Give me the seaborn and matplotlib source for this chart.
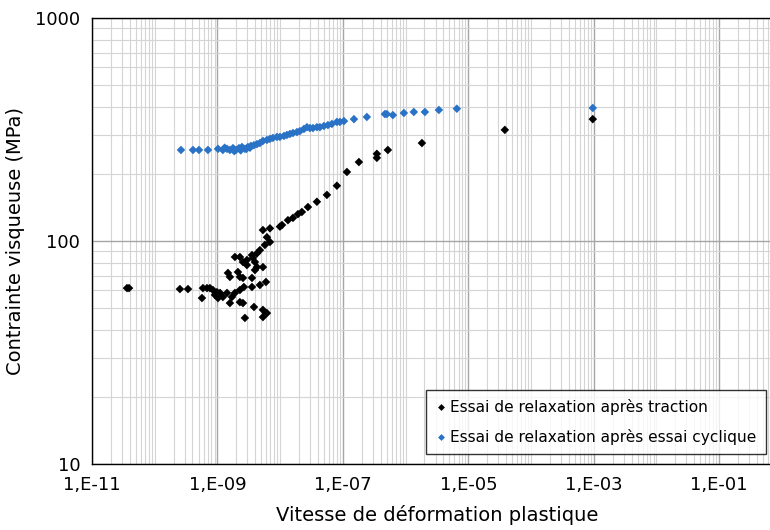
import pandas as pd
import numpy as np
import matplotlib
matplotlib.use('Agg')
import matplotlib.pyplot as plt
from matplotlib.ticker import LogLocator, FixedLocator, NullFormatter
import seaborn as sns

# ────────────────────────────────────────────────
# DATA
# ────────────────────────────────────────────────
LABEL_TRACTION = 'Essai de relaxation après traction'
LABEL_CYCLIQUE = 'Essai de relaxation après essai cyclique'

traction_vitesse = [
    3.61e-11, 3.89e-11, 2.52e-10, 3.39e-10, 5.66e-10, 5.87e-10, 6.81e-10, 7.59e-10,
    8.47e-10, 9.12e-10, 9.82e-10, 1.02e-9, 1.10e-9, 1.22e-9, 1.42e-9, 1.58e-9,
    1.70e-9, 1.90e-9, 2.28e-9, 2.64e-9, 2.28e-9, 2.55e-9, 2.74e-9, 3.82e-9,
    5.31e-9, 5.31e-9, 6.15e-9, 3.55e-9, 4.75e-9, 5.93e-9, 3.96e-9, 5.31e-9,
    1.47e-9, 1.58e-9, 2.12e-9, 2.28e-9, 2.55e-9, 3.55e-9, 1.90e-9, 2.28e-9,
    2.55e-9, 2.95e-9, 2.95e-9, 3.55e-9, 3.68e-9, 3.96e-9, 4.26e-9, 4.26e-9,
    4.75e-9, 5.71e-9, 6.87e-9, 6.15e-9, 5.31e-9, 6.87e-9, 9.91e-9, 1.07e-8,
    1.33e-8, 1.60e-8, 1.92e-8, 2.22e-8, 2.77e-8, 3.85e-8, 5.56e-8, 8.02e-8,
    1.16e-7, 1.80e-7, 3.48e-7, 3.48e-7, 5.21e-7, 1.82e-6, 3.82e-5, 9.64e-4,
]
traction_contrainte = [
    61.5, 61.5, 60.9, 60.9, 55.5, 61.5, 61.5, 61.5,
    60.3, 57.3, 59.0, 55.5, 58.5, 56.1, 58.5, 52.7,
    56.1, 58.5, 60.3, 62.2, 53.2, 52.7, 45.2, 50.6,
    49.1, 45.6, 47.5, 62.2, 63.5, 65.5, 74.1, 76.4,
    71.9, 69.0, 72.6, 69.0, 68.3, 68.3, 84.8, 84.8,
    80.5, 78.0, 82.2, 86.5, 84.0, 80.5, 76.4, 88.0,
    91.0, 96.0, 99.0, 104, 112, 114, 116, 118,
    124, 127, 132, 135, 142, 150, 161, 177,
    204, 226, 246, 236, 256, 275, 315, 352,
]

cyclique_vitesse = [
    2.62e-10, 4.07e-10, 5.07e-10, 7.06e-10, 1.02e-9, 1.22e-9, 1.42e-9, 1.58e-9,
    1.77e-9, 1.97e-9, 2.20e-9, 2.46e-9, 2.74e-9, 3.06e-9, 3.42e-9, 3.82e-9,
    4.26e-9, 4.75e-9, 5.31e-9, 6.15e-9, 6.87e-9, 7.66e-9, 8.87e-9, 9.91e-9,
    1.15e-8, 1.28e-8, 1.43e-8, 1.60e-8, 1.85e-8, 2.06e-8, 2.39e-8, 2.67e-8,
    2.98e-8, 3.33e-8, 3.85e-8, 4.30e-8, 4.98e-8, 5.77e-8, 6.68e-8, 8.02e-8,
    8.96e-8, 1.04e-7, 1.50e-7, 2.41e-7, 4.67e-7, 5.02e-7, 6.26e-7, 9.38e-7,
    1.35e-6, 2.03e-6, 3.39e-6, 6.56e-6, 9.64e-4,
    1.30e-9, 1.85e-9, 2.35e-9, 2.90e-9, 3.30e-9,
]
cyclique_contrainte = [
    256, 256, 256, 256, 259, 256, 259, 256,
    261, 256, 261, 264, 259, 264, 267, 269,
    272, 275, 281, 284, 287, 290, 293, 293,
    296, 299, 302, 305, 308, 311, 318, 324,
    321, 321, 324, 324, 328, 331, 335, 342,
    342, 345, 352, 360, 371, 371, 367, 375,
    379, 379, 387, 392, 395,
    262, 253, 255, 259, 262,
]

df = pd.concat([
    pd.DataFrame({'vitesse': traction_vitesse, 'contrainte': traction_contrainte,
                  'essai': LABEL_TRACTION}),
    pd.DataFrame({'vitesse': cyclique_vitesse, 'contrainte': cyclique_contrainte,
                  'essai': LABEL_CYCLIQUE}),
], ignore_index=True)

# ────────────────────────────────────────────────
# PLOT
# ────────────────────────────────────────────────
sns.set_style('white')
plt.rcParams['font.family'] = ['DejaVu Sans']
plt.rcParams['text.color'] = '#000000'
plt.rcParams['axes.labelcolor'] = '#000000'
plt.rcParams['xtick.color'] = '#000000'
plt.rcParams['ytick.color'] = '#000000'

fig = plt.figure(figsize=(7.7, 5.3), dpi=100)
# plot area runs a little past the right edge (cropped, as in the source image)
ax = fig.add_axes([0.1195, 0.1245, 0.896, 0.8415])

sns.scatterplot(data=df, x='vitesse', y='contrainte', hue='essai',
                palette={LABEL_TRACTION: '#000000', LABEL_CYCLIQUE: '#2a72c6'},
                marker='D', s=19, linewidth=0, ax=ax)

ax.set_xscale('log')
ax.set_yscale('log')
ax.set_xlim(1e-11, 1e0)
ax.set_ylim(10, 1000)

ax.xaxis.set_major_locator(FixedLocator([1e-11, 1e-9, 1e-7, 1e-5, 1e-3, 1e-1]))
ax.xaxis.set_minor_locator(LogLocator(base=10, subs=np.arange(1, 10), numticks=30))
ax.xaxis.set_minor_formatter(NullFormatter())
ax.set_xticklabels(['1,E-11', '1,E-09', '1,E-07', '1,E-05', '1,E-03', '1,E-01'])

ax.yaxis.set_major_locator(FixedLocator([10, 100, 1000]))
ax.yaxis.set_minor_locator(LogLocator(base=10, subs=np.arange(2, 10), numticks=10))
ax.yaxis.set_minor_formatter(NullFormatter())
ax.set_yticklabels(['10', '100', '1000'])

ax.grid(True, which='major', color='#a6a6a6', linewidth=1.0)
ax.grid(True, which='minor', color='#d4d4d4', linewidth=0.8)
ax.set_axisbelow(True)

ax.tick_params(axis='both', which='major', labelsize=13, length=5, width=1,
               color='#000000', labelcolor='#000000', direction='out')
ax.tick_params(axis='both', which='minor', length=0)
for side in ['left', 'bottom', 'top', 'right']:
    ax.spines[side].set_color('#000000')
    ax.spines[side].set_linewidth(1.0)

ax.set_xlabel('Vitesse de déformation plastique', fontsize=14, labelpad=8,
              color='#000000')
ax.set_ylabel('Contrainte visqueuse (MPa)', fontsize=14, labelpad=7,
              color='#000000')

leg = ax.legend(loc='upper left', bbox_to_anchor=(0.4725, 0.183), fontsize=11.1,
                frameon=True, fancybox=False, markerscale=0.8,
                handletextpad=0.2, handlelength=0.8, borderpad=0.6,
                labelspacing=0.9, title=None)
leg.get_frame().set_edgecolor('#000000')
leg.get_frame().set_linewidth(1.0)
for txt in leg.get_texts():
    txt.set_color('#000000')

fig.savefig('out.png', dpi=100)
